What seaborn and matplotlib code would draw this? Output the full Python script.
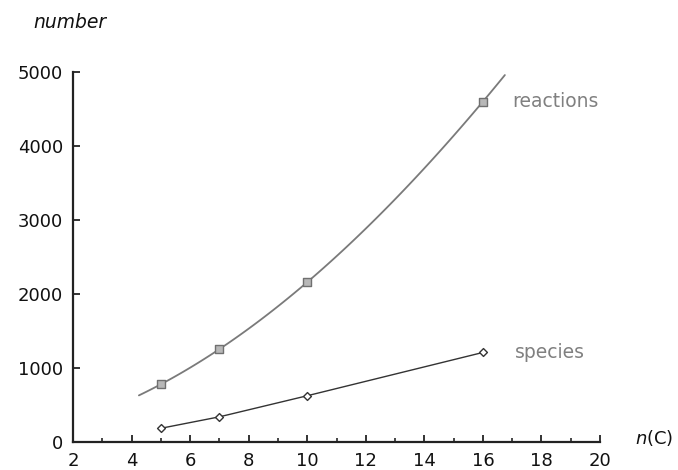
import numpy as np
import pandas as pd
import seaborn as sns
import matplotlib.pyplot as plt

sns.set_style("ticks")
plt.rcParams['font.family'] = ['DejaVu Sans']
plt.rcParams['mathtext.fontset'] = 'dejavusans'

# data
carbon = [5, 7, 10, 16]
reactions = [780, 1255, 2160, 4600]
species = [185, 340, 625, 1210]
fit_range = (4.25, 16.75)
x_ticks = [2, 4, 6, 8, 10, 12, 14, 16, 18, 20]
x_minor = [3, 5, 7, 9, 11, 13, 15, 17, 19]
y_ticks = [0, 1000, 2000, 3000, 4000, 5000]
series_labels = ["reactions", "species"]

fig = plt.figure(figsize=(6.78, 4.70), dpi=100)
ax = fig.add_axes([0.1077, 0.0596, 0.7773, 0.7872])

# fitted smooth curve for reactions (extends slightly beyond data)
ax.set_xlim(*fit_range)
sns.regplot(x=carbon, y=reactions, order=3, ci=None, truncate=False,
            scatter=False, ax=ax, line_kws=dict(color='#7a7a7a', lw=1.3))
sns.scatterplot(x=carbon, y=reactions, marker='s', s=38, color='#b8b8b8',
                edgecolor='#707070', linewidth=1.0, ax=ax, zorder=3)

# species
sns.lineplot(x=carbon, y=species, color='#333333', lw=1.0, ax=ax)
sns.scatterplot(x=carbon, y=species, marker='D', s=16, color='white',
                edgecolor='#333333', linewidth=1.0, ax=ax, zorder=3)

ax.set_xlim(2, 20)
ax.set_ylim(0, 5000)
ax.set_xticks(x_ticks)
ax.set_xticks(x_minor, minor=True)
ax.set_yticks(y_ticks)
ax.set_xticklabels([str(t) for t in x_ticks])
ax.set_yticklabels([str(t) for t in y_ticks])
ax.tick_params(axis='both', which='major', direction='in', length=5, width=1.2,
               labelsize=13, colors='#111111')
ax.tick_params(axis='x', which='major', pad=7.5)
ax.tick_params(axis='y', which='major', pad=7)
ax.tick_params(axis='x', which='minor', direction='in', length=3, width=1.2)
for s in ['top', 'right']:
    ax.spines[s].set_visible(False)
for s in ['left', 'bottom']:
    ax.spines[s].set_linewidth(1.6)
    ax.spines[s].set_color('#222222')
ax.set_xlabel('')
ax.set_ylabel('')

# series labels
ax.text(17.0, reactions[-1], series_labels[0], color='#808080', fontsize=13.5,
        va='center', ha='left')
ax.text(17.1, species[-1], series_labels[1], color='#808080', fontsize=13.5,
        va='center', ha='left')

# axis titles
fig.text(33 / 678, 1 - 22 / 470, 'number', fontsize=13.5, style='italic',
         ha='left', va='center', color='#111111')
fig.text(635 / 678, 1 - 438 / 470, r'$\mathit{n}$(C)', fontsize=13,
         ha='left', va='center', color='#111111')

fig.savefig('out.png', dpi=100)
